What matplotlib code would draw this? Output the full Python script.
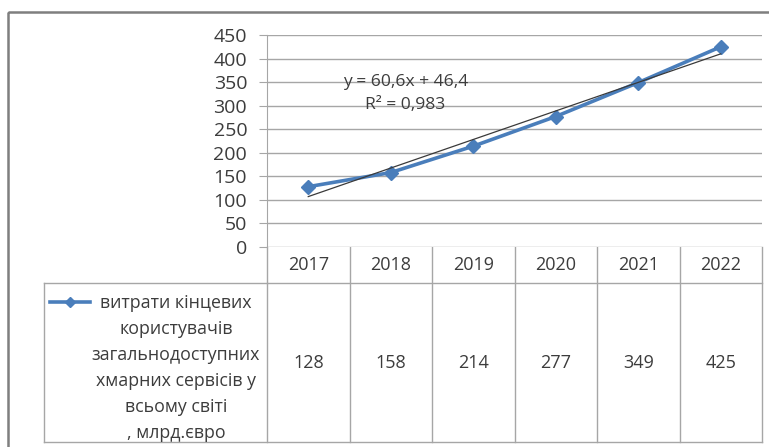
import matplotlib.pyplot as plt
from matplotlib.lines import Line2D
from matplotlib.patches import Rectangle

plt.rcParams['font.family'] = ['Open Sans', 'DejaVu Sans']

years = ['2017', '2018', '2019', '2020', '2021', '2022']
spending = [128, 158, 214, 277, 349, 425]
series_name = ('витрати кінцевих\nкористувачів\nзагальнодоступних\n'
               'хмарних сервісів у\nвсьому світі\n, млрд.євро')
trend_slope = 60.6
trend_intercept = 46.4
trend_r2 = 0.983
y_ticks = [0, 50, 100, 150, 200, 250, 300, 350, 400, 450]

W, H = 769, 447
blue = '#4a7ebb'
grid_c = '#a6a6a6'
text_c = '#3c3c3c'

fig = plt.figure(figsize=(W / 100, H / 100), dpi=100)

# full-figure overlay in pixel units for the frame and the data table
bg = fig.add_axes([0, 0, 1, 1])
bg.set_xlim(0, W)
bg.set_ylim(H, 0)
bg.axis('off')

# plot area box (pixels)
px0, px1, py_top, py_bot = 267, 762, 35, 247
ax = fig.add_axes([px0 / W, 1 - py_bot / H, (px1 - px0) / W, (py_bot - py_top) / H])

x = list(range(len(years)))
ax.plot(x, spending, color=blue, lw=2.6, marker='D', ms=7.5, zorder=3)
tx = [x[0], x[-1]]
ty = [trend_slope * (i + 1) + trend_intercept for i in tx]
ax.plot(tx, ty, color='#3a3a3a', lw=0.9, zorder=4)

ax.set_xlim(-0.5, len(years) - 0.5)
ax.set_ylim(0, 450)
ax.set_yticks(y_ticks)
ax.set_xticks([])
ax.grid(axis='y', color=grid_c, lw=1)
ax.set_axisbelow(True)
for s in ['top', 'right', 'bottom']:
    ax.spines[s].set_visible(False)
ax.spines['left'].set_color(grid_c)
ax.tick_params(axis='y', length=5.8, color=grid_c, labelsize=14,
               labelcolor=text_c, pad=8.5)

ax.text(1.18, 350, 'y = 60,6x + 46,4', ha='center', va='center',
        fontsize=12.6, color=text_c)
ax.text(1.18, 301, 'R² = {:.3f}'.format(trend_r2).replace('.', ','),
        ha='center', va='center', fontsize=12.6, color=text_c)

# data table under the plot
row1, row2 = 283, 442
col_w = (px1 - px0) / len(years)
line_kw = dict(color=grid_c, lw=1)
bg.plot([px0, px1], [row1, row1], **line_kw)
bg.plot([44, px1], [row2, row2], **line_kw)
bg.plot([44, px0], [row1, row1], **line_kw)
bg.plot([44, 44], [row1, row2], **line_kw)
bg.plot([px0, px0], [py_bot, row2], **line_kw)
for i in range(len(years)):
    xr = px0 + col_w * (i + 1)
    bg.plot([xr, xr], [py_bot, row2], **line_kw)
    xc = px0 + col_w * (i + 0.5)
    bg.text(xc, (py_bot + row1) / 2, years[i], ha='center', va='center',
            fontsize=13, color=text_c)
    bg.text(xc, (row1 + row2) / 2, str(spending[i]), ha='center', va='center',
            fontsize=13, color=text_c)

# legend key and series name
bg.add_line(Line2D([50, 90], [302, 302], color=blue, lw=2.6))
bg.plot([70], [302], marker='D', ms=5.5, color=blue)
bg.text(176, 368, series_name, ha='center', va='center', fontsize=12.8,
        color=text_c, linespacing=1.58)

# outer chart border
bg.add_patch(Rectangle((8, 12), 800, 500, fill=False, ec='#7f7f7f', lw=1.8))

fig.savefig('out.png', dpi=100)
